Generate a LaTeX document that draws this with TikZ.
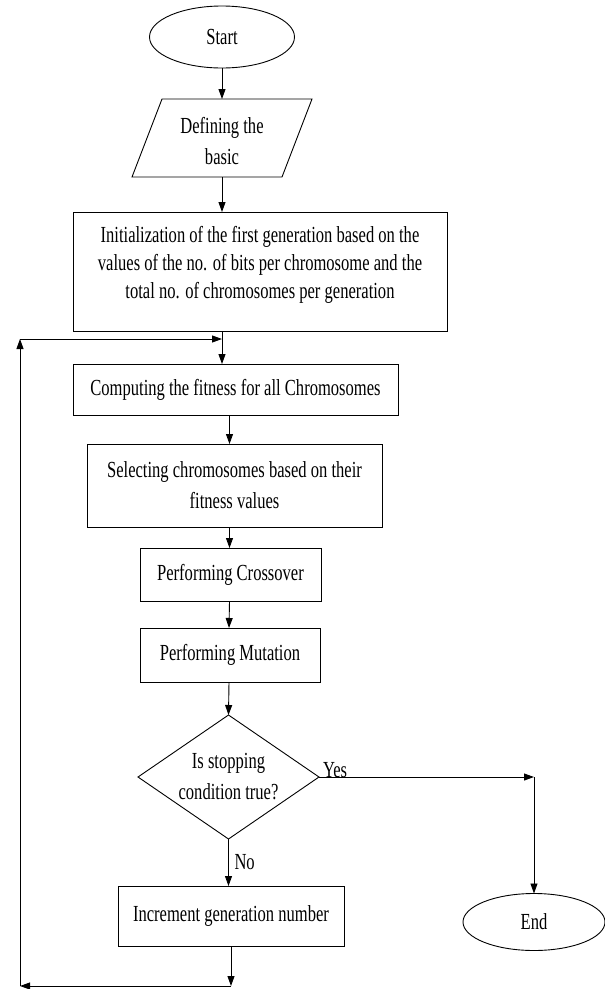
\documentclass[tikz,border=0pt]{standalone}
\usepackage{fontspec}
\setmainfont{Liberation Serif}[FakeStretch=0.72]
\usetikzlibrary{shapes.geometric,arrows.meta,calc}
\begin{document}
\begin{tikzpicture}[x=1pt,y=-1pt,
  every node/.style={inner sep=0pt, outer sep=0pt},
  txt/.style={align=center, font=\fontsize{23}{31}\selectfont},
  box/.style={draw, rectangle, line width=1pt, txt},
  oval/.style={draw, ellipse, line width=0.9pt, txt},
  arr/.style={line width=0.9pt, -{Triangle[length=10pt,width=7pt]}},
  ln/.style={line width=0.9pt}]
\useasboundingbox (0,0) rectangle (605,989);

\node[oval, minimum width=145pt, minimum height=62pt] (start) at (222,37) {Start};

\node[txt, minimum width=150pt, minimum height=78pt] (def) at (222,138) {};
\draw[ln] ([xshift=15pt]def.north west) -- ([xshift=15pt]def.north east)
  -- ([xshift=-15pt]def.south east) -- ([xshift=-15pt]def.south west) -- cycle;
\node[txt] (deftxt) at (222,141) {Defining the\\basic};

\node[box, minimum width=374pt, minimum height=119pt] (init) at (260,271.5) {};
\node[txt, font=\fontsize{23}{28}\selectfont] (inittxt) at (260,265)
  {Initialization of the first generation based on the\\values of the no. of bits per chromosome and the\\total no. of chromosomes per generation};

\node[box, minimum width=325pt, minimum height=51pt] (comp) at (235.5,389.5) {Computing the fitness for all Chromosomes};
\node[box, minimum width=295pt, minimum height=83pt] (sel) at (234.5,485.5) {Selecting chromosomes based on their\\fitness values};
\node[box, minimum width=181pt, minimum height=53pt] (cross) at (230.5,574.5) {Performing Crossover};
\node[box, minimum width=180pt, minimum height=54pt] (mut) at (230,655) {Performing Mutation};

\node[txt, minimum width=181pt, minimum height=124pt] (dec) at (228.5,777) {Is stopping\\condition true?};
\draw[ln] (dec.north) -- (dec.east) -- (dec.south) -- (dec.west) -- cycle;

\node[box, minimum width=226pt, minimum height=60pt] (inc) at (231,916) {Increment generation number};
\node[oval, minimum width=142pt, minimum height=57pt] (end) at (534,922) {End};

\coordinate (lb) at (20,986);
\coordinate (lt) at (20,339);

\draw[arr] (start.south -| def) -- (def.north);
\draw[arr] (def.south) -- (init.north -| def);
\draw[arr] (init.south -| def) -- (comp.north -| def);
\draw[arr] ($(comp.south)+(-6pt,0)$) -- ($(sel.north)+(-5pt,0)$);
\draw[arr] ($(sel.south)+(-5pt,0)$) -- ($(cross.north)+(-1pt,0)$);
\draw[arr] ($(cross.south)+(-1pt,0)$) -- ($(mut.north)+(-1pt,0)$);
\draw[arr] ($(mut.south)+(-1pt,0)$) -- (dec.north);
\draw[arr] (dec.east) -- (dec.east -| end.north) node[pos=0, anchor=south west, xshift=4pt, yshift=-1pt, txt] (yes) {Yes};
\draw[arr] (dec.east -| end.north) -- (end.north);
\draw[arr] (dec.south) -- (inc.north -| dec.south) node[midway, anchor=west, xshift=6pt, txt] (no) {No};
\draw[arr] (inc.south) -- (inc.south |- lb);
\draw[arr] (inc.south |- lb) -- (lb);
\draw[arr] (lb) -- (lt);
\draw[arr] (lt) -- (lt -| def);
\end{tikzpicture}
\end{document}
